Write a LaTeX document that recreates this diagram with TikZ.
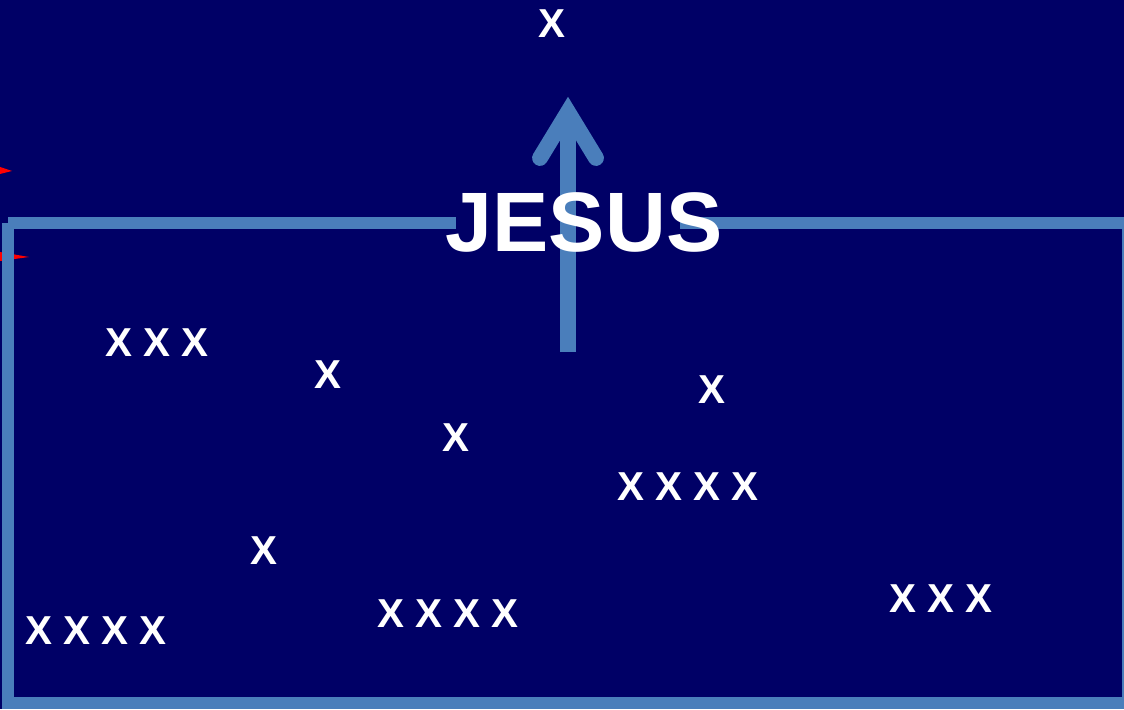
\documentclass[tikz,border=0pt]{standalone}
\usepackage{fontspec}
\setmainfont{Liberation Sans}
\usepackage{xcolor}
\usepackage{tikz}
\usetikzlibrary{positioning}
\definecolor{navy}{HTML}{000066}
\definecolor{steel}{HTML}{4A7EBB}

\begin{document}
\begin{tikzpicture}[
    x=0.02cm, y=-0.02cm,
    frame/.style={draw=steel, line width=6.8pt},
    shaft/.style={draw=steel, line width=9.6pt},
    chevron/.style={draw=steel, line width=9pt, line cap=round, line join=miter},
    cross/.style={text=white, font=\fontsize{23pt}{26pt}\selectfont\bfseries, inner sep=0pt},
    title/.style={text=white, font=\fontsize{48pt}{54pt}\selectfont\bfseries, inner sep=0pt},
    redtip/.style={fill=red, draw=none},
  ]
  % Background
  \fill[navy] (0,0) rectangle (1124,709);
  \useasboundingbox (0,0) rectangle (1124,709);

  % Red tips at the left edge
  \fill[redtip] (0,167) -- (12,171) -- (0,174) -- cycle;
  \fill[redtip] (0,252) -- (29,257) -- (0,261) -- cycle;

  % Arrow
  \coordinate (tail) at (568,352);
  \coordinate (tip) at (568,112);
  \coordinate (armL) at (540,158);
  \coordinate (armR) at (596,158);
  \draw[shaft] (tail) -- (tip);
  \draw[chevron] (armL) -- (tip) -- (armR);

  % Frame
  \coordinate (tl) at (8,223);
  \coordinate (gapL) at (456,223);
  \coordinate (gapR) at (680,223);
  \coordinate (tr) at (1128,223);
  \coordinate (br) at (1128,703);
  \coordinate (bl) at (8,703);
  \draw[frame] (tl) -- (gapL);
  \draw[frame] (gapR) -- (tr) -- (br) -- (bl) -- (tl);

  % Title
  \node[title] (jesus) at (584,222) {JESUS};

  % Crosses
  \node[cross] (top) at (552,24) {X};
  \node[cross] (g1) at (157,343) {X X X};
  \node[cross] (s1) at (328,375) {X};
  \node[cross] (s2) at (456,438) {X};
  \node[cross] (s3) at (712,390) {X};
  \node[cross] (g2) at (688,487) {X X X X};
  \node[cross] (s4) at (264,551) {X};
  \node[cross] (g3) at (448,614) {X X X X};
  \node[cross] (g4) at (96,631) {X X X X};
  \node[cross] (g5) at (941,599) {X X X};
\end{tikzpicture}
\end{document}
